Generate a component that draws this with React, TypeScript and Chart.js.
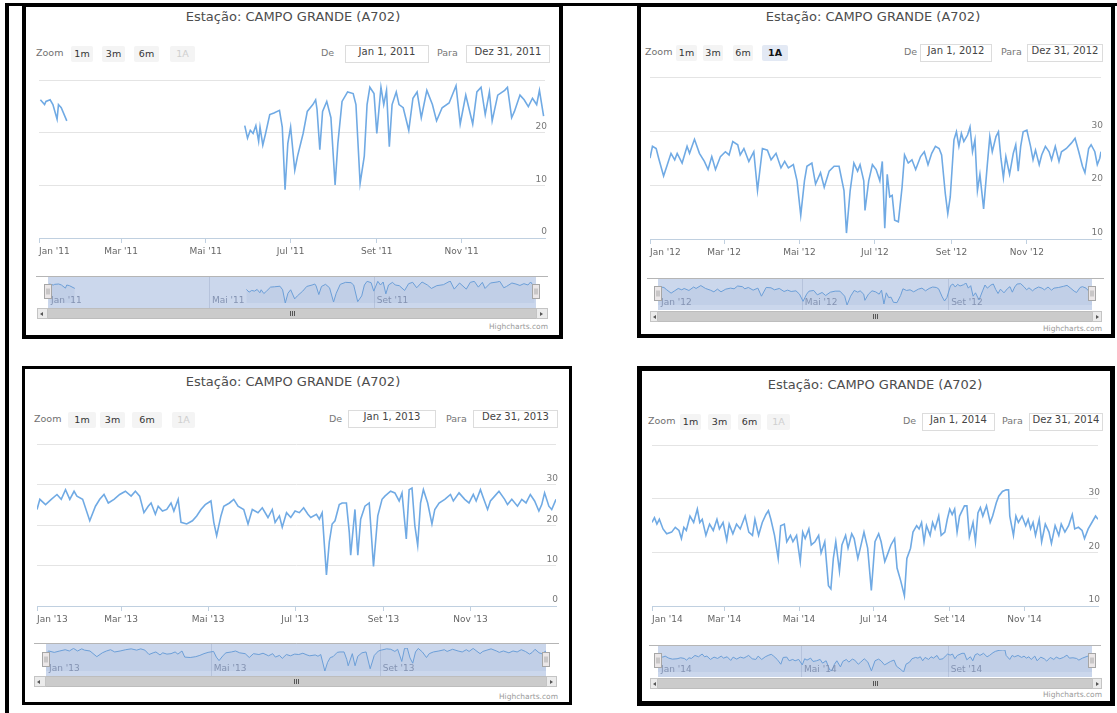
import React, { useEffect, useRef } from "react";
import { Chart, registerables } from "chart.js";

Chart.register(...registerables);

// ---------- data ----------
const TITLE = "Estação: CAMPO GRANDE (A702)";
const monthLabels = ["Jan", "Mar", "Mai", "Jul", "Set", "Nov"];
const monthStarts = [0, 59, 120, 181, 243, 304];
const monthStartsLeap = [0, 60, 121, 182, 244, 305];
const navLabels = ["Jan", "Mai", "Set"];
const navStarts = [0, 120, 243];
const navStartsLeap = [0, 121, 244];
const zoomButtons = ["1m", "3m", "6m", "1A"];

const yTicks2011 = [0, 10, 20, 30];
const yTicks2012 = [10, 20, 30, 40];
const yTicks2013 = [0, 10, 20, 30, 40];
const yTicks2014 = [10, 20, 30, 40];

// day of year (0 = Jan 1) and daily temperature (°C); null = missing data
const days2011 = [1, 4, 5, 8, 10, 13, 14, 16, 20, 80, 148, 150, 152, 154, 156, 158, 159, 161, 163, 166, 169, 173, 175, 177, 179, 181, 184, 186, 190, 193, 197, 199, 200, 202, 204, 207, 210, 213, 215, 218, 222, 226, 228, 231, 234, 236, 238, 241, 243, 246, 248, 250, 252, 254, 257, 259, 262, 266, 269, 272, 275, 279, 283, 286, 290, 295, 300, 303, 307, 312, 315, 318, 321, 324, 326, 330, 335, 337, 340, 342, 346, 349, 352, 355, 358, 360, 363];
const temps2011 = [26.3, 25.4, 26.0, 26.3, 25.4, 22.6, 25.4, 24.8, 22.3, null, 21.4, 19.0, 20.5, 19.9, 21.4, 18.4, 21.1, 17.7, 19.9, 23.5, 23.8, 24.3, 21.1, 9.2, 18.0, 21.1, 12.9, 15.6, 19.9, 24.1, 25.4, 26.3, 24.5, 16.8, 24.1, 26.0, 22.9, 10.1, 18.0, 26.0, 27.8, 27.5, 25.4, 10.4, 15.6, 25.4, 28.7, 27.5, 19.9, 28.7, 25.4, 28.1, 17.4, 25.4, 27.8, 25.4, 24.8, 20.5, 26.6, 27.8, 22.9, 28.1, 25.4, 22.3, 24.8, 25.7, 29.0, 21.7, 27.2, 21.7, 27.8, 28.7, 23.5, 27.8, 22.3, 27.2, 28.1, 28.7, 22.9, 24.1, 27.2, 26.3, 25.0, 26.6, 25.4, 28.1, 23.2];

const days2012 = [0, 2, 5, 7, 11, 14, 17, 20, 22, 26, 30, 32, 36, 40, 44, 47, 50, 53, 57, 61, 64, 67, 71, 73, 76, 80, 84, 87, 91, 95, 98, 102, 106, 109, 112, 116, 119, 122, 125, 127, 131, 134, 138, 141, 145, 149, 153, 157, 159, 162, 165, 168, 170, 173, 174, 177, 180, 183, 186, 188, 190, 192, 194, 196, 198, 201, 204, 206, 209, 212, 215, 219, 222, 225, 228, 231, 234, 236, 239, 241, 243, 246, 248, 250, 252, 254, 257, 259, 261, 263, 265, 267, 270, 273, 275, 277, 280, 282, 284, 286, 288, 291, 294, 296, 298, 300, 302, 305, 308, 310, 312, 315, 317, 320, 323, 325, 328, 331, 333, 337, 341, 344, 347, 350, 352, 355, 357, 360, 362, 364, 365];
const temps2012 = [25.0, 27.2, 26.8, 25.0, 21.7, 23.8, 25.9, 24.7, 25.9, 24.1, 27.2, 25.9, 28.5, 25.9, 24.4, 22.9, 25.3, 22.9, 25.3, 26.2, 25.6, 28.1, 27.5, 25.6, 26.8, 24.4, 26.2, 19.0, 26.8, 26.5, 24.7, 25.9, 23.2, 24.4, 23.2, 23.8, 20.8, 14.4, 20.8, 23.5, 24.1, 20.2, 22.3, 19.6, 22.6, 23.5, 23.5, 19.0, 11.1, 19.0, 24.1, 22.6, 23.8, 20.8, 15.3, 20.8, 23.8, 22.9, 20.8, 24.4, 12.0, 22.0, 17.8, 18.1, 13.5, 13.2, 19.6, 25.6, 24.1, 24.7, 22.9, 25.3, 26.2, 23.8, 25.9, 27.2, 26.8, 25.6, 18.4, 14.7, 17.8, 28.4, 29.9, 27.2, 29.6, 28.1, 29.3, 30.8, 26.2, 28.4, 19.0, 22.0, 15.6, 23.8, 29.0, 26.2, 29.0, 29.9, 25.0, 21.4, 25.3, 22.0, 25.9, 27.5, 22.6, 27.2, 29.9, 30.2, 27.2, 24.7, 26.5, 23.8, 25.6, 27.2, 26.2, 24.7, 27.2, 24.4, 26.2, 26.8, 27.8, 28.7, 26.2, 23.5, 22.3, 26.8, 27.5, 26.2, 23.8, 25.0, 26.2];

const days2013 = [0, 2, 6, 10, 14, 17, 20, 23, 26, 28, 32, 37, 41, 44, 47, 50, 54, 58, 62, 66, 69, 72, 75, 78, 80, 83, 85, 88, 91, 94, 96, 99, 101, 105, 109, 112, 115, 118, 122, 124, 126, 129, 131, 135, 138, 141, 145, 148, 151, 155, 158, 162, 165, 167, 170, 172, 175, 178, 181, 184, 187, 190, 192, 196, 198, 200, 203, 205, 207, 209, 212, 214, 217, 219, 220, 223, 225, 227, 230, 233, 236, 239, 242, 244, 248, 251, 254, 256, 259, 261, 263, 265, 267, 269, 271, 274, 277, 279, 282, 286, 290, 292, 296, 300, 303, 306, 308, 311, 313, 316, 318, 321, 324, 328, 330, 333, 337, 340, 343, 346, 349, 352, 354, 356, 359, 361, 364];
const temps2013 = [23.9, 26.4, 25.1, 26.4, 27.6, 26.4, 28.8, 26.4, 28.4, 27.2, 26.4, 21.1, 24.7, 26.4, 27.6, 25.5, 26.4, 27.6, 28.4, 27.2, 28.4, 27.2, 23.1, 24.7, 25.5, 22.7, 24.7, 23.5, 23.9, 25.5, 23.5, 26.4, 20.7, 20.3, 21.1, 22.3, 23.9, 25.1, 26.0, 20.7, 17.4, 22.3, 24.7, 25.5, 26.4, 24.7, 23.9, 20.3, 23.9, 23.1, 24.3, 21.9, 23.9, 20.7, 22.3, 19.5, 23.1, 21.9, 23.5, 23.1, 24.3, 22.7, 21.9, 22.7, 21.5, 23.1, 7.7, 15.8, 20.3, 21.1, 25.1, 25.5, 25.5, 18.3, 12.6, 23.9, 12.6, 21.5, 24.7, 25.5, 9.8, 22.3, 26.4, 27.2, 28.4, 28.0, 26.0, 28.0, 16.6, 28.8, 29.2, 19.9, 15.0, 25.5, 28.8, 25.5, 20.3, 23.9, 25.5, 26.4, 27.6, 26.0, 28.0, 26.4, 25.5, 27.6, 26.0, 28.8, 26.8, 23.9, 26.0, 27.2, 28.4, 26.4, 25.1, 26.4, 24.7, 26.4, 25.5, 27.6, 26.0, 23.5, 25.1, 28.0, 24.7, 23.9, 26.4];

const days2014 = [0, 2, 4, 6, 9, 12, 16, 19, 22, 24, 26, 28, 31, 34, 37, 39, 41, 44, 47, 50, 53, 55, 58, 61, 63, 66, 69, 72, 74, 76, 79, 82, 84, 87, 90, 93, 95, 97, 100, 103, 105, 108, 110, 113, 115, 118, 121, 123, 125, 128, 130, 133, 136, 138, 141, 144, 146, 148, 150, 153, 155, 158, 160, 163, 165, 168, 170, 173, 176, 179, 182, 185, 187, 190, 192, 195, 198, 200, 203, 206, 208, 211, 213, 216, 218, 220, 222, 224, 227, 229, 231, 234, 236, 239, 241, 243, 245, 247, 249, 251, 255, 257, 259, 262, 264, 266, 268, 270, 273, 276, 278, 281, 283, 286, 289, 291, 292, 295, 297, 299, 302, 305, 307, 309, 311, 313, 316, 318, 321, 324, 326, 329, 332, 334, 337, 340, 343, 345, 348, 351, 353, 356, 359, 362, 364];
const temps2014 = [25.6, 26.5, 25.3, 26.2, 24.4, 23.5, 23.8, 24.7, 24.1, 22.6, 24.7, 24.1, 26.8, 25.6, 28.1, 25.6, 26.2, 23.2, 25.3, 24.1, 26.2, 24.4, 25.6, 22.3, 25.3, 23.5, 25.3, 24.4, 25.6, 26.8, 23.8, 23.2, 26.2, 23.2, 25.6, 27.1, 27.8, 26.2, 23.2, 18.9, 25.0, 25.3, 22.0, 23.2, 22.0, 23.2, 18.3, 23.8, 22.6, 24.4, 21.4, 22.0, 23.2, 19.9, 22.0, 13.8, 13.2, 18.9, 22.0, 16.5, 21.4, 23.2, 20.8, 23.5, 22.6, 18.9, 20.8, 23.8, 20.8, 12.9, 22.0, 23.5, 22.0, 18.3, 19.5, 21.4, 22.6, 17.1, 14.7, 11.9, 18.9, 20.8, 23.8, 25.0, 24.4, 25.6, 22.0, 25.0, 23.2, 25.6, 24.4, 26.8, 23.2, 23.8, 26.2, 28.1, 27.1, 28.1, 23.8, 26.8, 28.7, 28.7, 22.9, 25.6, 22.0, 27.4, 28.4, 26.8, 28.7, 25.6, 26.8, 29.3, 30.5, 31.4, 31.7, 31.7, 26.8, 23.2, 26.8, 25.6, 26.8, 25.0, 26.2, 24.4, 25.6, 23.2, 26.2, 22.0, 25.3, 23.8, 21.7, 25.0, 23.2, 25.3, 23.8, 25.0, 27.1, 24.4, 24.7, 24.1, 22.6, 24.4, 25.6, 26.8, 26.2];

// ---------- layout ----------
const FONT = '"DejaVu Sans", Verdana, sans-serif';
const LINE_COLOR = "#70aae4";

const PANELS: any[] = [
  {
    year: "2011", leap: false, days: days2011, temps: temps2011, yTicks: yTicks2011, selected1A: false,
    frame: { l: 22, t: 3, r: 563, b: 339, bw: 4 },
    title: { x: 293, y: 18 }, rowY: 54, zoomX: 36,
    btns: [[71, 93], [102, 125], [134, 159], [170, 195]],
    deX: 321, box1: [345, 429], paraX: 437, box2: [466, 550], boxTop: 45,
    plot: { l: 36, r: 548, t: 76, b: 238 },
    nav: { t: 276, b: 308, ml: 48, mr: 536 },
    scroll: { l: 37, r: 548, t: 308, h: 11 },
    credit: { r: 548, y: 327 },
  },
  {
    year: "2012", leap: true, days: days2012, temps: temps2012, yTicks: yTicks2012, selected1A: true,
    frame: { l: 637, t: 3, r: 1115, b: 338, bw: 4 },
    title: { x: 873, y: 18 }, rowY: 53, zoomX: 645,
    btns: [[676, 697], [703, 723], [733, 753], [762, 788]],
    deX: 904, box1: [920, 992], paraX: 1001, box2: [1027, 1103], boxTop: 44,
    plot: { l: 647, r: 1104, t: 73, b: 239 },
    nav: { t: 278, b: 310, ml: 658, mr: 1092 },
    scroll: { l: 650, r: 1102, t: 311, h: 11 },
    credit: { r: 1102, y: 329 },
  },
  {
    year: "2013", leap: false, days: days2013, temps: temps2013, yTicks: yTicks2013, selected1A: false,
    frame: { l: 22, t: 366, r: 572, b: 705, bw: 3 },
    title: { x: 293, y: 383 }, rowY: 420, zoomX: 34,
    btns: [[68, 96], [100, 125], [132, 162], [172, 195]],
    deX: 329, box1: [348, 436], paraX: 446, box2: [473, 558], boxTop: 410,
    plot: { l: 34, r: 559, t: 440, b: 606 },
    nav: { t: 643, b: 676, ml: 46, mr: 546 },
    scroll: { l: 34, r: 557, t: 676, h: 11 },
    credit: { r: 558, y: 697 },
  },
  {
    year: "2014", leap: false, days: days2014, temps: temps2014, yTicks: yTicks2014, selected1A: false,
    frame: { l: 637, t: 366, r: 1115, b: 706, bw: 5 },
    title: { x: 875, y: 386 }, rowY: 422, zoomX: 648,
    btns: [[680, 701], [708, 731], [738, 761], [767, 790]],
    deX: 903, box1: [922, 995], paraX: 1002, box2: [1029, 1103], boxTop: 413,
    plot: { l: 649, r: 1101, t: 441, b: 606 },
    nav: { t: 645, b: 677, ml: 658, mr: 1092 },
    scroll: { l: 650, r: 1102, t: 678, h: 11 },
    credit: { r: 1102, y: 695 },
  },
];

function MainChart({ p }: any) {
  const ref = useRef<HTMLCanvasElement | null>(null);
  const PAD_T = 3;
  const AX_H = 24;
  const w = p.plot.r - p.plot.l;
  const h = p.plot.b - p.plot.t + PAD_T + AX_H;
  useEffect(() => {
    const canvas = ref.current;
    if (!canvas) return;
    const last = p.leap ? 365 : 364;
    const starts = p.leap ? monthStartsLeap : monthStarts;
    const tickVals = [...starts, last];
    const yy = p.year.slice(2);
    const yMin = p.yTicks[0];
    const yMax = p.yTicks[p.yTicks.length - 1];
    const chart = new Chart(canvas, {
      type: "line",
      data: {
        datasets: [
          {
            data: p.days.map((d: number, i: number) => ({ x: d, y: p.temps[i] })),
            borderColor: LINE_COLOR,
            borderWidth: 1.6,
            pointRadius: 0,
            tension: 0,
            spanGaps: false,
            fill: false,
          },
        ],
      },
      options: {
        responsive: false,
        animation: false,
        events: [],
        layout: { padding: { top: PAD_T, left: 0, right: 0, bottom: 0 } },
        plugins: { legend: { display: false }, tooltip: { enabled: false } },
        scales: {
          x: {
            type: "linear",
            min: 0,
            max: last,
            afterBuildTicks: (s: any) => {
              s.ticks = tickVals.map((v) => ({ value: v }));
            },
            afterFit: (s: any) => {
              s.height = AX_H;
            },
            grid: {
              display: true,
              drawOnChartArea: false,
              drawTicks: true,
              tickLength: 5,
              tickColor: (c: any) => (c.index === tickVals.length - 1 ? "rgba(0,0,0,0)" : "#c0d0e0"),
            },
            border: { display: true, color: "#c0d0e0" },
            ticks: {
              autoSkip: false,
              maxRotation: 0,
              align: "inner",
              padding: 3,
              color: "#666",
              font: { family: FONT, size: 9 },
              callback: (_v: any, i: number) => (i < monthLabels.length ? `${monthLabels[i]} '${yy}` : ""),
            },
          },
          y: {
            position: "right",
            min: yMin,
            max: yMax,
            afterBuildTicks: (s: any) => {
              s.ticks = p.yTicks.map((v: number) => ({ value: v }));
            },
            afterFit: (s: any) => {
              s.width = 0;
            },
            grid: { color: "#e4e4e4", drawTicks: false },
            border: { display: false },
            ticks: {
              mirror: true,
              padding: 2,
              labelOffset: -6,
              color: "#777",
              font: { family: FONT, size: 9 },
              callback: (v: any) => (v === yMax ? "" : String(v)),
            },
          },
        },
      } as any,
    });
    return () => chart.destroy();
  }, [p]);
  return (
    <canvas
      ref={ref}
      width={w}
      height={h}
      style={{ position: "absolute", left: p.plot.l, top: p.plot.t - PAD_T, width: w, height: h }}
    />
  );
}

function NavChart({ p }: any) {
  const ref = useRef<HTMLCanvasElement | null>(null);
  const w = p.plot.r - p.plot.l;
  const h = p.nav.b - p.nav.t;
  useEffect(() => {
    const canvas = ref.current;
    if (!canvas) return;
    const last = p.leap ? 365 : 364;
    const nStarts = p.leap ? navStartsLeap : navStarts;
    const vals = p.temps.filter((v: any) => v !== null);
    const lo = Math.min(...vals);
    const hi = Math.max(...vals);
    const yy = p.year.slice(2);
    const decor = {
      id: "navDecor",
      beforeDatasetsDraw(chart: any) {
        const { ctx, chartArea: a } = chart;
        const xs = chart.scales.x;
        ctx.save();
        ctx.fillStyle = "#cbd7ec";
        ctx.fillRect(a.left, 0, a.right - a.left, h);
        ctx.strokeStyle = "#b6c3dc";
        ctx.lineWidth = 1;
        nStarts.forEach((d: number, i: number) => {
          if (i === 0) return;
          const px = Math.round(xs.getPixelForValue(d)) + 0.5;
          ctx.beginPath();
          ctx.moveTo(px, 0);
          ctx.lineTo(px, h);
          ctx.stroke();
        });
        ctx.strokeStyle = "#b5b5b5";
        ctx.beginPath();
        ctx.moveTo(0, 0.5);
        ctx.lineTo(w, 0.5);
        ctx.stroke();
        ctx.restore();
      },
      afterDatasetsDraw(chart: any) {
        const { ctx, chartArea: a } = chart;
        const xs = chart.scales.x;
        ctx.save();
        ctx.font = `9px ${FONT}`;
        ctx.fillStyle = "#8493b2";
        ctx.textBaseline = "middle";
        ctx.textAlign = "left";
        nStarts.forEach((d: number, i: number) => {
          ctx.fillText(`${navLabels[i]} '${yy}`, xs.getPixelForValue(d) + 3, h - 7);
        });
        [a.left, a.right].forEach((hx: number) => {
          const x0 = Math.round(hx) - 3.5;
          const y0 = Math.round(h / 2) - 7.5;
          ctx.fillStyle = "#ebe7e8";
          ctx.strokeStyle = "#a6a6a6";
          ctx.lineWidth = 1;
          ctx.fillRect(x0, y0, 7, 14);
          ctx.strokeRect(x0, y0, 7, 14);
          ctx.beginPath();
          ctx.moveTo(x0 + 2.5, y0 + 4);
          ctx.lineTo(x0 + 2.5, y0 + 10);
          ctx.moveTo(x0 + 4.5, y0 + 4);
          ctx.lineTo(x0 + 4.5, y0 + 10);
          ctx.stroke();
        });
        ctx.restore();
      },
    };
    const chart = new Chart(canvas, {
      type: "line",
      data: {
        datasets: [
          {
            data: p.days.map((d: number, i: number) => ({ x: d, y: p.temps[i] })),
            borderColor: "#6c9fd8",
            borderWidth: 1,
            pointRadius: 0,
            tension: 0,
            spanGaps: false,
            fill: "start",
            backgroundColor: "rgba(69,114,167,0.07)",
          },
        ],
      },
      options: {
        responsive: false,
        animation: false,
        events: [],
        layout: {
          padding: { top: 5, bottom: 5, left: p.nav.ml - p.plot.l, right: p.plot.r - p.nav.mr },
        },
        plugins: { legend: { display: false }, tooltip: { enabled: false } },
        scales: {
          x: { type: "linear", min: 0, max: last, display: false },
          y: { min: lo, max: hi, display: false },
        },
      } as any,
      plugins: [decor],
    });
    return () => chart.destroy();
  }, [p]);
  return (
    <canvas
      ref={ref}
      width={w}
      height={h}
      style={{ position: "absolute", left: p.plot.l, top: p.nav.t, width: w, height: h }}
    />
  );
}

function Scrollbar({ p }: any) {
  const s = p.scroll;
  const n = p.nav;
  const base: any = { position: "absolute", top: s.t, height: s.h, boxSizing: "border-box" };
  const mid = Math.round((n.ml + n.mr) / 2);
  const tri = (dir: "l" | "r"): any => ({
    position: "absolute",
    top: Math.round(s.h / 2) - 3,
    left: dir === "l" ? 2 : 3,
    width: 0,
    height: 0,
    borderTop: "2.5px solid transparent",
    borderBottom: "2.5px solid transparent",
    [dir === "l" ? "borderRight" : "borderLeft"]: "3px solid #555",
  });
  return (
    <>
      <div style={{ ...base, left: s.l, width: s.r - s.l, background: "#eeeeee" }} />
      <div
        style={{
          ...base,
          left: n.ml,
          width: n.mr - n.ml,
          background: "#cbcbcb",
          borderTop: "1px solid #bdbdbd",
          borderBottom: "1px solid #bdbdbd",
        }}
      />
      <div style={{ ...base, left: s.l, width: n.ml - s.l, background: "#ebebeb", border: "1px solid #c4c4c4" }}>
        <div style={tri("l")} />
      </div>
      <div style={{ ...base, left: n.mr, width: s.r - n.mr, background: "#ebebeb", border: "1px solid #c4c4c4" }}>
        <div style={tri("r")} />
      </div>
      {[-2, 0, 2].map((o) => (
        <div
          key={o}
          style={{ position: "absolute", left: mid + o, top: s.t + 3, width: 1, height: s.h - 6, background: "#555" }}
        />
      ))}
    </>
  );
}

function Panel({ p }: any) {
  const f = p.frame;
  const abs: any = { position: "absolute", whiteSpace: "nowrap" };
  const boxStyle = (b: number[]): any => ({
    ...abs,
    left: b[0],
    top: p.boxTop,
    width: b[1] - b[0],
    height: 18,
    lineHeight: "16px",
    textAlign: "center",
    border: "1px solid #dcdcdc",
    boxSizing: "border-box",
    font: `10px ${FONT}`,
    color: "#444",
    overflow: "hidden",
  });
  return (
    <>
      <div
        style={{
          position: "absolute",
          left: f.l,
          top: f.t,
          width: f.r - f.l,
          height: f.b - f.t,
          border: `${f.bw}px solid #000`,
          boxSizing: "border-box",
          background: "#fff",
        }}
      />
      <div
        style={{
          ...abs,
          left: p.title.x - 200,
          top: p.title.y - 9,
          width: 400,
          height: 18,
          lineHeight: "18px",
          textAlign: "center",
          font: `13px ${FONT}`,
          color: "#4d4d4d",
        }}
      >
        {TITLE}
      </div>
      <div style={{ ...abs, left: p.zoomX, top: p.rowY - 7, lineHeight: "14px", font: `9.5px ${FONT}`, color: "#707070" }}>
        Zoom
      </div>
      {p.btns.map(([l, r]: number[], i: number) => {
        const is1A = i === 3;
        const sel = is1A && p.selected1A;
        return (
          <div
            key={i}
            style={{
              ...abs,
              left: l,
              top: p.rowY - 8,
              width: r - l,
              height: 16,
              lineHeight: "16px",
              textAlign: "center",
              borderRadius: 2,
              background: sel ? "#e3e9f4" : "#f4f4f4",
              color: sel ? "#111" : is1A ? "#cfcfcf" : "#333",
              fontWeight: sel ? "bold" : "normal",
              fontFamily: FONT,
              fontSize: 9.5,
            }}
          >
            {zoomButtons[i]}
          </div>
        );
      })}
      <div style={{ ...abs, left: p.deX, top: p.rowY - 7, lineHeight: "14px", font: `9.5px ${FONT}`, color: "#777" }}>De</div>
      <div style={boxStyle(p.box1)}>{`Jan 1, ${p.year}`}</div>
      <div style={{ ...abs, left: p.paraX, top: p.rowY - 7, lineHeight: "14px", font: `9.5px ${FONT}`, color: "#777" }}>
        Para
      </div>
      <div style={boxStyle(p.box2)}>{`Dez 31, ${p.year}`}</div>
      <MainChart p={p} />
      <NavChart p={p} />
      <Scrollbar p={p} />
      <div
        style={{
          ...abs,
          left: p.credit.r - 120,
          width: 120,
          top: p.credit.y - 5,
          lineHeight: "10px",
          textAlign: "right",
          font: `7.5px ${FONT}`,
          color: "#9a9a9a",
        }}
      >
        Highcharts.com
      </div>
    </>
  );
}

export default function App() {
  return (
    <div
      style={{
        position: "absolute",
        left: 0,
        top: 0,
        width: 1117,
        height: 713,
        background: "#fff",
        overflow: "hidden",
      }}
    >
      <div style={{ position: "absolute", left: 5, top: 3, width: 1112, height: 3, background: "#000" }} />
      <div style={{ position: "absolute", left: 5, top: 3, width: 4, height: 710, background: "#000" }} />
      {PANELS.map((p) => (
        <Panel key={p.year} p={p} />
      ))}
    </div>
  );
}
